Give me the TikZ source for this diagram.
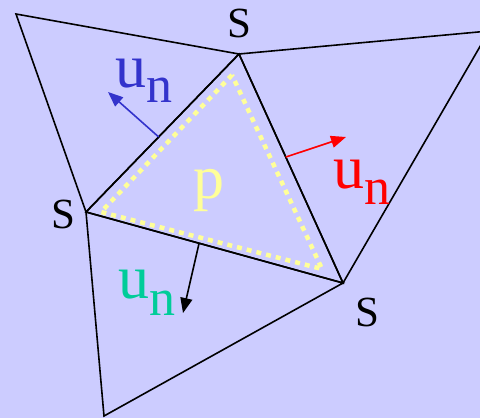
\documentclass[tikz,border=0pt]{standalone}
\usepackage{fontspec}
\setmainfont{Liberation Serif}
\usetikzlibrary{arrows.meta,calc}
\definecolor{bg}{HTML}{CCCCFF}
\definecolor{ublue}{HTML}{3333CC}
\definecolor{ured}{HTML}{FF0000}
\definecolor{ugreen}{HTML}{00CC99}
\definecolor{dotyellow}{HTML}{FFFF99}
\begin{document}
\begin{tikzpicture}[x=1pt,y=-1pt,
  edge/.style={line width=1.6pt, line join=miter},
  normal/.style={line width=1.6pt, -{Triangle[length=15pt,width=12pt]}},
  lbl/.style={inner sep=0pt, anchor=base west, font=\fontsize{62}{62}\selectfont},
  slbl/.style={inner sep=0pt, anchor=base west, font=\fontsize{43}{43}\selectfont},
  dotted tri/.style={dotyellow, line width=4.5pt, dash pattern=on 5pt off 5pt}]
\useasboundingbox (0,0) rectangle (480,418);
\clip (0,0) rectangle (480,418);
\fill[bg] (0,0) rectangle (480,418);
% vertices
\coordinate (A) at (239,54);
\coordinate (L) at (86,212);
\coordinate (R) at (343,283);
\coordinate (TLo) at (16,14);
\coordinate (BLo) at (104,416);
\coordinate (TRo) at (489,31);
% triangles
\draw[edge] (TLo) -- (A) -- (L) -- cycle;
\draw[edge] (A) -- (L) -- (R) -- cycle;
\draw[edge] (L) -- (R) -- (BLo) -- cycle;
\draw[edge] (A) -- (TRo) -- (R) -- cycle;
% yellow dotted cell
\draw[dotted tri] (232,75) -- (101,212) -- (322,269) -- cycle;
% normals
\coordinate (b0) at ($(A)!0.525!(L)$);
\coordinate (b1) at (108,92);
\coordinate (r0) at ($(A)!0.45!(R)$);
\coordinate (r1) at (346,137);
\coordinate (k0) at ($(L)!0.44!(R)$);
\coordinate (k1) at (183,313);
\draw[normal, ublue, fill=ublue] (b0) -- (b1);
\draw[normal, ured, fill=ured] (r0) -- (r1);
\draw[normal, black, fill=black] (k0) -- (k1);
% labels
\node[slbl] (sT) at (227,37) {S};
\node[slbl] (sL) at (51,228) {S};
\node[slbl] (sR) at (355,326) {S};
\node[lbl, dotyellow] (p) at (193,198) {p};
\node[lbl, ublue] (ub) at (115,87) {u\raisebox{-15pt}{\fontsize{52}{52}\selectfont n}};
\node[lbl, ured] (ur) at (333,188) {u\raisebox{-16pt}{\fontsize{52}{52}\selectfont n}};
\node[lbl, ugreen] (ug) at (118,298) {u\raisebox{-17pt}{\fontsize{52}{52}\selectfont n}};
\end{tikzpicture}
\end{document}
